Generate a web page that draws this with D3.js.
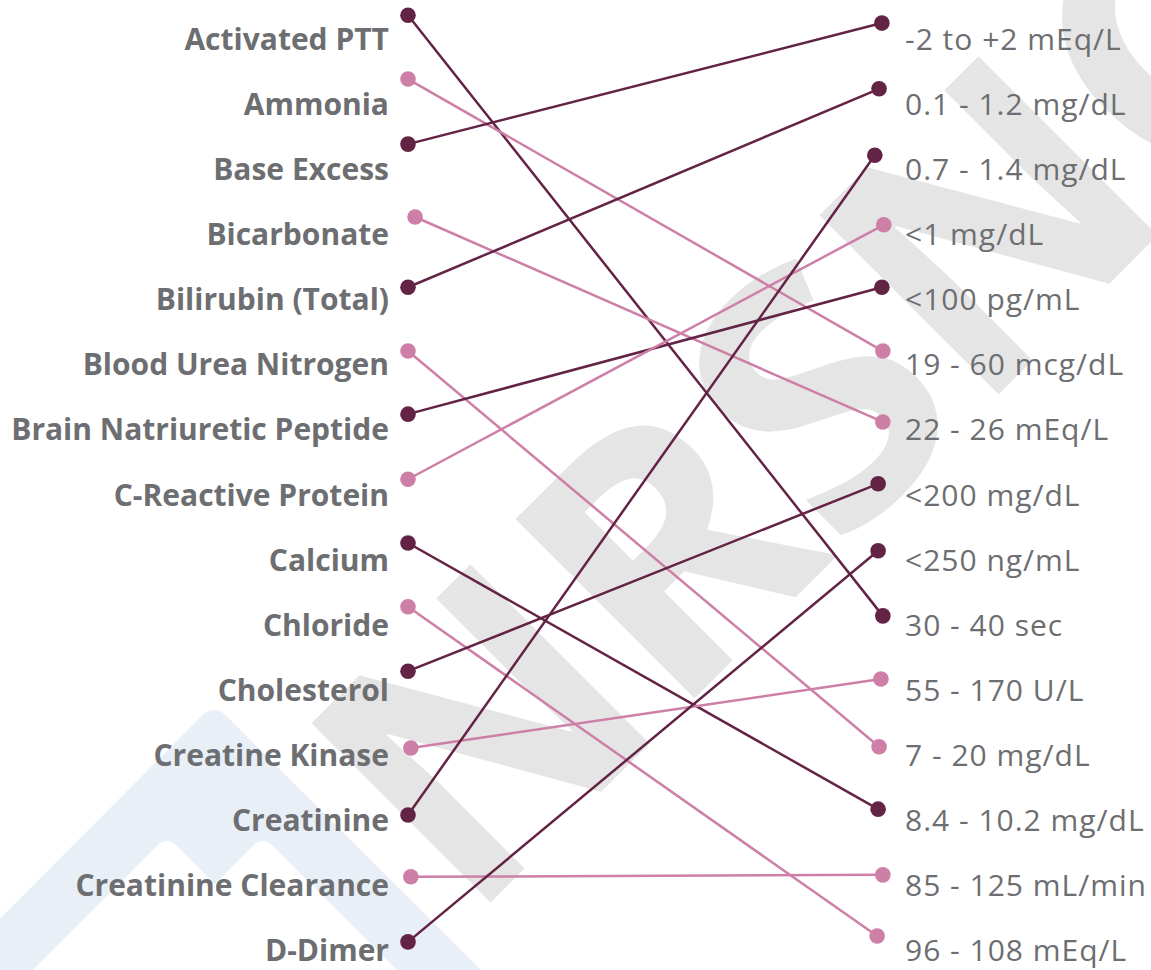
<!DOCTYPE html>
<html>
<head>
<meta charset="utf-8">
<script src="https://cdn.jsdelivr.net/npm/d3@7"></script>
<style>
  body { margin: 0; background: #fff; }
  svg { display: block; }
</style>
</head>
<body>
<script>
// tests on the left, reference ranges on the right
const tests = ["Activated PTT", "Ammonia", "Base Excess", "Bicarbonate", "Bilirubin (Total)",
  "Blood Urea Nitrogen", "Brain Natriuretic Peptide", "C-Reactive Protein", "Calcium", "Chloride",
  "Cholesterol", "Creatine Kinase", "Creatinine", "Creatinine Clearance", "D-Dimer"];
const ranges = ["-2 to +2 mEq/L", "0.1 - 1.2 mg/dL", "0.7 - 1.4 mg/dL", "<1 mg/dL", "<100 pg/mL",
  "19 - 60 mcg/dL", "22 - 26 mEq/L", "<200 mg/dL", "<250 ng/mL", "30 - 40 sec",
  "55 - 170 U/L", "7 - 20 mg/dL", "8.4 - 10.2 mg/dL", "85 - 125 mL/min", "96 - 108 mEq/L"];
// which range each test points to
const matches = [9, 5, 0, 6, 1, 11, 4, 3, 12, 14, 7, 10, 2, 13, 8];

// dot positions (row units, 0..100 across)
const leftRow = [-0.38, 0.6, 1.6, 2.72, 3.8, 4.78, 5.75, 6.75, 7.73, 8.71, 9.7, 10.88, 11.91, 12.86, 13.86];
const leftCol = [0, 0, 0, 1.5, 0, 0, 0, 0, 0, 0, 0, 0.6, 0, 0.6, 0];
const rightRow = [-0.26, 0.75, 1.77, 2.84, 3.8, 4.78, 5.87, 6.82, 7.85, 8.85, 9.82, 10.86, 11.82, 12.83, 13.77];
const rightCol = [100.4, 99.8, 98.9, 100.8, 100.4, 100.6, 100.6, 99.6, 99.6, 100.6, 100.2, 99.8, 99.6, 100.6, 99.4];

const W = 1151, H = 970;
const dark = "#622345", pink = "#cd7fa7", textGray = "#6d6e71";

const svg = d3.select("body").append("svg")
  .attr("width", W)
  .attr("height", H)

// faint background logo + watermark
let bg = svg.append("g")
bg.append("path")
  .attr("d", "M214,725 L-60,1000 L490,1000 Z")
  .attr("fill", "#e8eff6")
  .attr("stroke", "#e8eff6")
  .attr("stroke-width", 30)
  .attr("stroke-linejoin", "round")
bg.append("path")
  .attr("d", "M167,853 L30,990 L304,990 Z M263,853 L126,990 L400,990 Z")
  .attr("fill", "#fff")
  .attr("stroke", "#fff")
  .attr("stroke-width", 24)
  .attr("stroke-linejoin", "round")
bg.append("text")
  .attr("transform", "translate(915,478) rotate(-45)")
  .attr("text-anchor", "middle")
  .attr("font-family", "'Open Sans', sans-serif")
  .attr("font-weight", 700)
  .attr("font-size", 355)
  .attr("fill", "#e5e5e5")
  .text("NRSNG")

const y = d3.scaleLinear().domain([0, tests.length - 1]).range([40, 951]);
const x = d3.scaleLinear().domain([0, 100]).range([408, 880]);
const color = i => i % 2 === 0 ? dark : pink;

// left labels
svg.append("g")
  .selectAll("text")
  .data(tests)
  .enter()
  .append("text")
  .attr("x", 389)
  .attr("y", (d, i) => y(i) + 10)
  .attr("text-anchor", "end")
  .attr("font-family", "'Open Sans', sans-serif")
  .attr("font-weight", 700)
  .attr("font-size", "30px")
  .attr("fill", textGray)
  .text(d => d)

// right labels
svg.append("g")
  .selectAll("text")
  .data(ranges)
  .enter()
  .append("text")
  .attr("x", 905)
  .attr("y", (d, i) => y(i) + 10)
  .attr("font-family", "'Open Sans', sans-serif")
  .attr("font-weight", 400)
  .attr("font-size", "30px")
  .attr("letter-spacing", "1px")
  .attr("fill", textGray)
  .text(d => d)

const links = tests.map((t, i) => ({
  x1: x(leftCol[i]), y1: y(leftRow[i]),
  x2: x(rightCol[matches[i]]), y2: y(rightRow[matches[i]]),
  c: color(i)
}));

svg.append("g")
  .selectAll("line")
  .data(links)
  .enter()
  .append("line")
  .attr("x1", d => d.x1).attr("y1", d => d.y1)
  .attr("x2", d => d.x2).attr("y2", d => d.y2)
  .attr("stroke", d => d.c)
  .attr("stroke-width", 2.5)

let dots = svg.append("g")
dots.selectAll(".l")
  .data(links)
  .enter()
  .append("circle")
  .attr("cx", d => d.x1).attr("cy", d => d.y1)
  .attr("r", 7.8)
  .attr("fill", d => d.c)
dots.selectAll(".r")
  .data(links)
  .enter()
  .append("circle")
  .attr("cx", d => d.x2).attr("cy", d => d.y2)
  .attr("r", 7.8)
  .attr("fill", d => d.c)
</script>
</body>
</html>
